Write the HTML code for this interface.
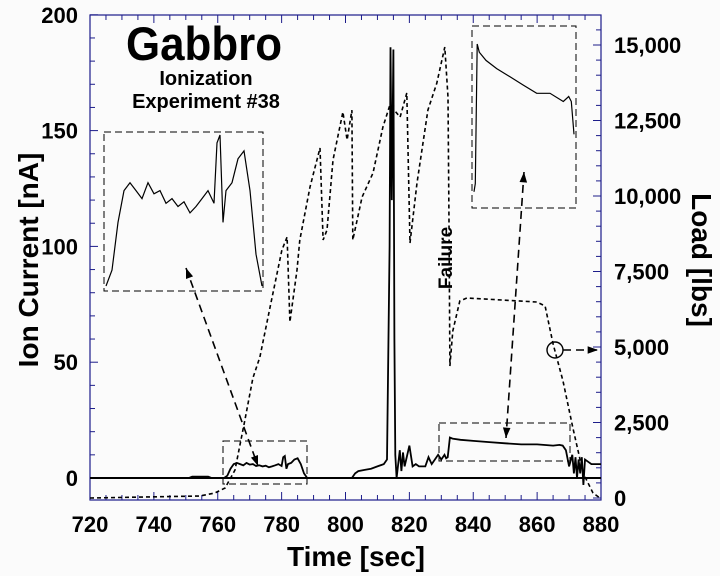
<!DOCTYPE html>
<html><head><meta charset="utf-8"><style>
html,body{margin:0;padding:0;background:#fbfbfb;}
svg{display:block;font-family:"Liberation Sans",Arial,sans-serif;font-weight:bold;}
</style></head><body>
<svg id="chart" width="720" height="576" viewBox="0 0 720 576" xmlns="http://www.w3.org/2000/svg">
<rect x="0" y="0" width="720" height="576" fill="#fbfbfb"/>
<text x="204" y="60" font-size="47" text-anchor="middle" textLength="156" lengthAdjust="spacingAndGlyphs">Gabbro</text>
<text x="206" y="85" font-size="20" text-anchor="middle">Ionization</text>
<text x="206" y="108" font-size="20" text-anchor="middle">Experiment #38</text>
<text transform="translate(38,260) rotate(-90)" font-size="28" text-anchor="middle">Ion Current [nA]</text>
<text transform="translate(692,260) rotate(90)" font-size="28" text-anchor="middle">Load [lbs]</text>
<text x="356" y="566" font-size="28" text-anchor="middle">Time [sec]</text>
<text transform="translate(452,258) rotate(-90)" font-size="19" text-anchor="middle">Failure</text>
<g id="g"></g>
</svg>
<script>
const xTicks=[720,740,760,780,800,820,840,860,880];
const ionTicks=[0,50,100,150,200];
const loadTicks=[0,2500,5000,7500,10000,12500,15000];
const loadLabels=["0","2,500","5,000","7,500","10,000","12,500","15,000"];
const loadT=[720,754.4,759.1,762.3,765.4,768.5,771,773.2,776.4,780.1,781.7,782.6,784.8,785.7,788.9,792,793,794.2,796.1,799.2,800.5,802,802.3,805.2,808.6,811.7,813.9,817.1,819.2,820.2,822.4,825.8,828.6,831.1,832.1,832.4,832.7,833.6,835.8,838,859.9,862.5,865,868.1,871.2,874.4,877.5,879.7];
const loadV=[0,66,166,331,927,2583,3973,4668,6323,8211,8641,5828,7549,8542,10297,11588,8542,8873,11191,12780,11853,12846,8542,9966,10760,12283,13012,12614,13409,8443,10429,12846,13740,14932,13276,9105,4370,5529,6522,6622,6489,6357,5099,3874,2318,828,166,0];
const ionT=[720,751,752,757,758,762,763,764,765,766,767,768,769,770,771,772,773,774,775,776,777,778,779,780,780.5,781,781.5,782,783,784,785,786,787,788,802,803,804,806,808,810,812,813,813.8,814.1,814.5,815,815.3,815.6,816,817,817.5,818,818.5,819,820,821,822,823,825,826,827,828,829,830,831,831.5,832,832.7,833.5,836,840,845,850,855,860,865,867,868,869,870,871,871.5,872,872.5,873,873.5,874,874.5,875,876,877,878,880];
const ionV=[0,0,0.6,0.6,0,0,1,4,6,6.5,6,5.5,6.5,5.8,6,5.2,5.5,5,5.3,4.6,5,5.5,6,5.2,9,9.5,4,6,6.5,8,8.5,6,2,0,0,2,3,3.5,4,5,6,8,100,186,120,185,60,10,0,12,3,11,5,8,14,5,6,5,5,9,6,8,10,8,10,8.5,9,17.5,17,16.5,16,15.5,15,14.5,14.5,14,14.3,14,12,5,10,2,9,0,8,2,9,-3,8,7,6,6,6];

const svg=document.getElementById('g');
const NS='http://www.w3.org/2000/svg';
const X0=90,X1=601,YT=15,YB=500;
const xs=t=>X0+(t-720)/160*(X1-X0);
const yIon=v=>478-v*2.316;
const yLoad=v=>498-v/2500*75.5;
function el(tag,attrs,parent){const e=document.createElementNS(NS,tag);for(const k in attrs)e.setAttribute(k,attrs[k]);(parent||svg).appendChild(e);return e;}
const AX='#1c1c8a';
const frame=el('rect',{x:X0,y:YT,width:X1-X0,height:YB-YT,fill:'none',stroke:AX,'stroke-width':1.2});


for(let t=720;t<=880;t+=5){const x=xs(t);const L=(t%20===0)?8:5;
 const a=el('line',{x1:x,y1:YB,x2:x,y2:YB-L,stroke:AX});
 const b=el('line',{x1:x,y1:YT,x2:x,y2:YT+L,stroke:AX});}
xTicks.forEach(t=>{const tx=el('text',{x:xs(t),y:532,'font-size':22,'text-anchor':'middle'});tx.textContent=t;
 });
for(let v=-10;v<=200;v+=10){const y=yIon(v);if(y>YB||y<YT-1)continue;const L=(v%50===0)?8:5;
 const a=el('line',{x1:X0,y1:y,x2:X0+L,y2:y,stroke:AX});}
ionTicks.forEach(v=>{const tx=el('text',{x:78,y:yIon(v)+8,'font-size':22,'text-anchor':'end'});tx.textContent=v;
 });
for(let v=0;v<=16000;v+=500){const y=yLoad(v);if(y<YT)continue;const L=(v%2500===0)?8:5;
 const a=el('line',{x1:X1,y1:y,x2:X1-L,y2:y,stroke:AX});}
loadTicks.forEach((v,i)=>{const tx=el('text',{x:614,y:yLoad(v)+8,'font-size':22,'text-anchor':'start'});tx.textContent=loadLabels[i];
 });
const z=el('line',{x1:X0,y1:yIon(0),x2:X1,y2:yIon(0),stroke:'#000','stroke-width':2});

let d='';loadT.forEach((t,i)=>{d+=(i?'L':'M')+xs(t).toFixed(1)+','+yLoad(loadV[i]).toFixed(1);});
const lp=el('path',{d:d,fill:'none',stroke:'#000','stroke-width':1.6,'stroke-dasharray':'4,3'});

d='';ionT.forEach((t,i)=>{d+=(i?'L':'M')+xs(t).toFixed(1)+','+yIon(ionV[i]).toFixed(1);});
const ip=el('path',{d:d,fill:'none',stroke:'#000','stroke-width':1.8});

function box(x,y,w,h,name){const r=el('rect',{x:x,y:y,width:w,height:h,fill:'none',stroke:'#000','stroke-width':1,'stroke-dasharray':'7,4'});
 }
box(223,441,84,43,'zoom-region-1');
box(439,423,131,38,'zoom-region-2');
box(104,132,159,159,'inset-1-frame');
box(472,26,104,182,'inset-2-frame');
function inset(t0,t1,v0,v1,x0,x1,y0,y1,name){
 let p='';let first=true;
 ionT.forEach((t,i)=>{if(t<t0||t>t1)return;const x=x0+(t-t0)/(t1-t0)*(x1-x0);
  let v=Math.max(v0,Math.min(v1,ionV[i]));const y=y0-(v-v0)/(v1-v0)*(y0-y1);
  p+=(first?'M':'L')+x.toFixed(1)+','+y.toFixed(1);first=false;});
 const e=el('path',{d:p,fill:'none',stroke:'#000','stroke-width':1.2});
 }
inset(762,788,0,9.5,106,262,286,135,'inset-1-series');
inset(831.5,869,8,17.5,474,574,200,44,'inset-2-series');
function arrow(x1,y1,x2,y2,name,both){
 const l=el('line',{x1:x1,y1:y1,x2:x2,y2:y2,stroke:'#000','stroke-width':1.6,'stroke-dasharray':'8,5'});
 
 const head=(ax,ay,bx,by)=>{const a=Math.atan2(ay-by,ax-bx);const s=11,w=0.35;
  const h=el('polygon',{points:`${ax},${ay} ${ax-s*Math.cos(a-w)},${ay-s*Math.sin(a-w)} ${ax-s*Math.cos(a+w)},${ay-s*Math.sin(a+w)}`,fill:'#000'});
  };
 head(x2,y2,x1,y1);if(both)head(x1,y1,x2,y2);}
arrow(186,268,258,466,'inset-1-arrow',true);
arrow(524,172,506,438,'inset-2-arrow',true);
const c=el('circle',{cx:555,cy:350,r:8,fill:'none',stroke:'#000','stroke-width':1.4});

arrow(563,350,598,350,'load-axis-arrow',false);
</script>
</body></html>
